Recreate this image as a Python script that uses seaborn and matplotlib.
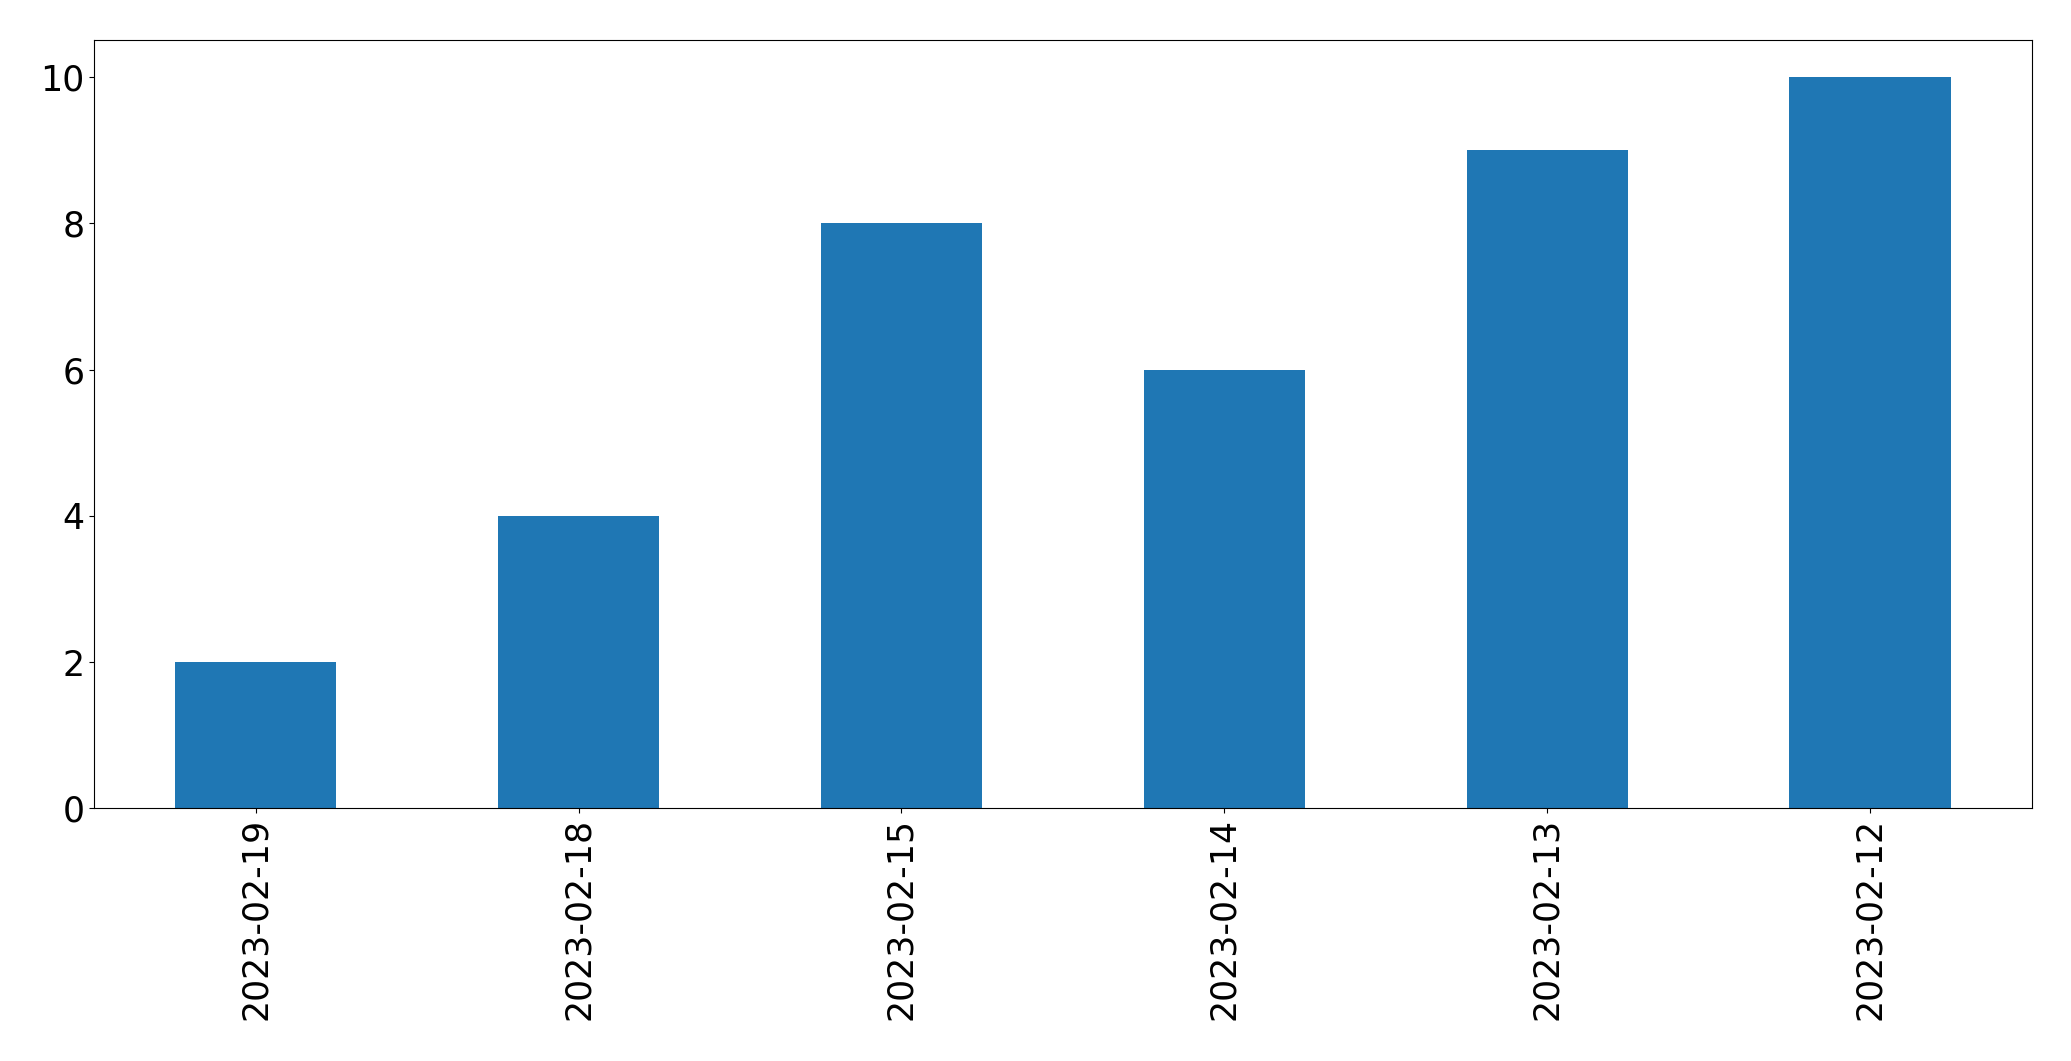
import matplotlib
matplotlib.use("Agg")
import matplotlib.pyplot as plt
import seaborn as sns
import pandas as pd

dates = ['2023-02-19', '2023-02-18', '2023-02-15', '2023-02-14', '2023-02-13', '2023-02-12']
counts = [2, 4, 8, 6, 9, 10]

df = pd.DataFrame({'date': dates, 'count': counts})

plt.rcParams['font.family'] = 'DejaVu Sans'
plt.rcParams['font.size'] = 25

fig, ax = plt.subplots(figsize=(20.71, 10.61), dpi=100)
fig.subplots_adjust(left=0.0455, right=0.981, top=0.962, bottom=0.238)

sns.barplot(data=df, x='date', y='count', color='#1f77b4', saturation=1, width=0.5, ax=ax)

ax.set_xlabel('')
ax.set_ylabel('')
ax.set_ylim(0, 10.5)
ax.set_xlim(-0.5, len(dates) - 0.5)
ax.tick_params(axis='x', rotation=90)
for s in ax.spines.values():
    s.set_visible(True)
    s.set_color('black')
    s.set_linewidth(0.8)

fig.savefig('out.png', dpi=100)
